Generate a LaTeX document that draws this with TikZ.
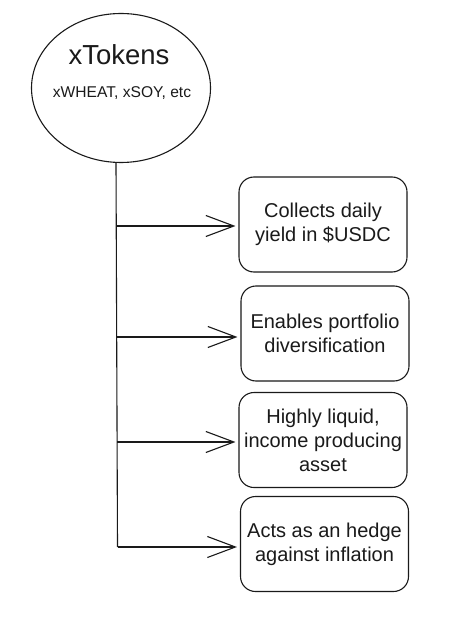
\documentclass[tikz,border=0pt]{standalone}
\usepackage{fontspec}
\setmainfont{Liberation Sans}
\usetikzlibrary{shapes.geometric,arrows.meta}
\definecolor{ink}{HTML}{1A1A1A}
\begin{document}
\begin{tikzpicture}[x=1pt,y=-1pt,
  ink/.style={draw=ink,line width=1.1pt},
  infobox/.style={ink,rectangle,rounded corners=15pt,minimum width=168pt,minimum height=95pt,
    inner sep=2pt,align=center,text=ink,font=\fontsize{20}{24}\selectfont},
  branch/.style={ink,-{Straight Barb[length=28pt,width=21pt,line width=1.1pt]},shorten >=3pt}]
\useasboundingbox[fill=white] (0,0) rectangle (458,628);
% xTokens circle
\node[ink,ellipse,minimum width=179pt,minimum height=149pt,inner sep=0pt] (tok) at (121,88) {};
\node[text=ink,font=\fontsize{27.5}{30}\selectfont] (toktitle) at (119,55) {xTokens};
\node[text=ink,font=\fontsize{15.6}{18}\selectfont] (toksub) at (122,93) {xWHEAT, xSOY, etc};
% boxes
\node[infobox] (b1) at (323,224.5) {Collects daily\\yield in \$USDC};
\node[infobox] (b2) at (325,333.5) {Enables portfolio\\diversification};
\node[infobox] (b3) at (323,440) {Highly liquid,\\income producing\\asset};
\node[infobox] (b4) at (324.5,544) {Acts as an hedge\\against inflation};
% trunk
\coordinate (j1) at (116,226);
\coordinate (j2) at (116.5,337);
\coordinate (j3) at (117,442);
\coordinate (j4) at (117.5,547);
\draw[ink] (tok.south -| j1) -- (j4);
% branches
\draw[branch] (j1) -- (b1.west |- j1);
\draw[branch] (j2) -- (b2.west |- j2);
\draw[branch] (j3) -- (b3.west |- j3);
\draw[branch] (j4) -- (b4.west |- j4);
\end{tikzpicture}
\end{document}
